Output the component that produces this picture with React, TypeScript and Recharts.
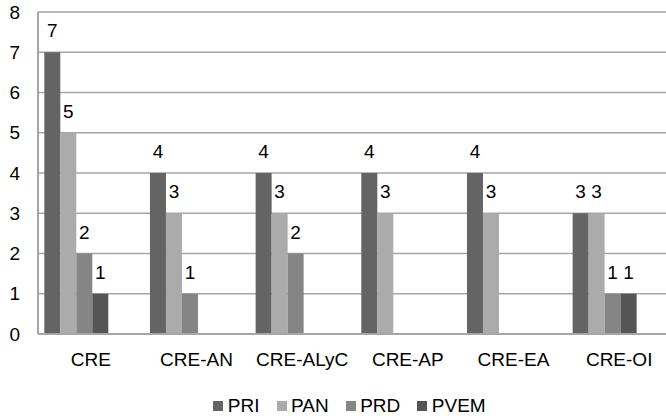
import React from 'react';
import { BarChart, Bar, XAxis, YAxis, CartesianGrid, Legend, LabelList } from 'recharts';

const categories = ['CRE', 'CRE-AN', 'CRE-ALyC', 'CRE-AP', 'CRE-EA', 'CRE-OI'];
const PRI = [7, 4, 4, 4, 4, 3];
const PAN = [5, 3, 3, 3, 3, 3];
const PRD = [2, 1, 2, 0, 0, 1];
const PVEM = [1, 0, 0, 0, 0, 1];
const yTicks = [0, 1, 2, 3, 4, 5, 6, 7, 8];

const seriesNames = ['PRI', 'PAN', 'PRD', 'PVEM'];
const seriesValues = [PRI, PAN, PRD, PVEM];
const seriesColors = ['#646464', '#ababab', '#858585', '#555555'];

const data = categories.map((c, i) => {
  const row: Record<string, any> = { name: c };
  seriesNames.forEach((s, k) => {
    row[s] = seriesValues[k][i];
  });
  return row;
});

const FONT = '"Liberation Sans", Arial, sans-serif';
const FS = 19;

const renderLegend = (props: any) => {
  const payload = (props.payload || [])
    .filter((p: any) => p.type !== 'none' && seriesNames.indexOf(p.value) >= 0)
    .slice()
    .sort((a: any, b: any) => seriesNames.indexOf(a.value) - seriesNames.indexOf(b.value));
  return (
    <div style={{ display: 'flex', justifyContent: 'center', alignItems: 'center', fontFamily: FONT, fontSize: FS, lineHeight: '19px', color: '#000' }}>
      {payload.map((p: any, i: number) => (
        <div key={i} style={{ display: 'flex', alignItems: 'center', marginRight: i < payload.length - 1 ? 17 : 0 }}>
          <div style={{ width: 10, height: 10, background: p.color, marginRight: 4.5 }} />
          <span>{p.value}</span>
        </div>
      ))}
    </div>
  );
};

const fmt = (v: any) => (v ? v : '');

export default function App() {
  return (
    <div style={{ position: 'fixed', left: 0, top: 0, width: 666, height: 416, overflow: 'hidden', background: '#fff' }}>
      <BarChart
        width={680}
        height={416}
        data={data}
        margin={{ top: 12, right: 8, left: 0, bottom: 52 }}
        barCategoryGap={6.3}
        barGap={0}
      >
        <CartesianGrid vertical={false} stroke="#a6a6a6" strokeWidth={1.5} />
        <XAxis
          dataKey="name"
          tickLine={false}
          tickSize={0}
          tickMargin={19}
          height={30}
          axisLine={{ stroke: '#a6a6a6', strokeWidth: 2 }}
          tick={{ fill: '#000', fontSize: FS, fontFamily: FONT }}
          interval={0}
        />
        <YAxis
          width={38}
          domain={[0, 8]}
          ticks={yTicks}
          tickLine={false}
          tickSize={0}
          tickMargin={18}
          axisLine={{ stroke: '#a6a6a6', strokeWidth: 2 }}
          tick={{ fill: '#000', fontSize: FS, fontFamily: FONT }}
        />
        <Legend
          layout="horizontal"
          verticalAlign="middle"
          align="center"
          content={renderLegend}
          wrapperStyle={{ top: 396, left: 0, width: 699 }}
        />
        {seriesNames.map((s, k) => (
          <Bar key={s} dataKey={s} name={s} fill={seriesColors[k]} isAnimationActive={false}>
            <LabelList dataKey={s} position="top" offset={15} formatter={fmt} fill="#000" fontSize={FS} fontFamily={FONT} />
          </Bar>
        ))}
        <Bar dataKey="_empty1" legendType="none" fill="#fff" isAnimationActive={false} />
        <Bar dataKey="_empty2" legendType="none" fill="#fff" isAnimationActive={false} />
      </BarChart>
    </div>
  );
}
